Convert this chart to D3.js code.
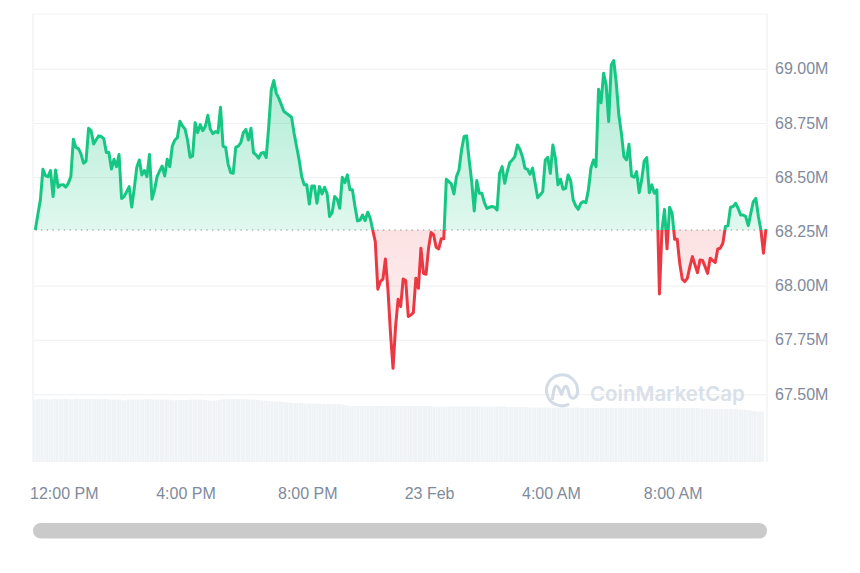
<!DOCTYPE html>
<html>
<head>
<meta charset="utf-8">
<script src="https://cdn.jsdelivr.net/npm/d3@7"></script>
<style>
body { margin: 0; background: #fff; }
.tick text { font-family: "Liberation Sans", Arial, sans-serif; font-size: 16px; fill: #808a9d; }
</style>
</head>
<body>
<div id="chart"></div>
<script>
// one reading every 5 minutes, in millions
var values = [
  68.259,68.330,68.397,68.539,68.510,68.505,68.533,68.413,68.536,68.456,68.467,68.468,68.457,68.474,68.505,68.677,
  68.640,68.634,68.610,68.567,68.576,68.728,68.717,68.656,68.675,68.693,68.690,68.680,68.616,68.616,68.540,68.585,
  68.551,68.607,68.404,68.413,68.436,68.459,68.365,68.451,68.548,68.582,68.513,68.533,68.505,68.607,68.401,68.444,
  68.505,68.531,68.554,68.508,68.585,68.551,68.646,68.674,68.685,68.760,68.739,68.725,68.674,68.594,68.600,68.754,
  68.708,68.745,68.717,68.736,68.788,68.723,68.703,68.713,68.708,68.825,68.646,68.640,68.563,68.524,68.520,68.640,
  68.646,68.662,68.708,68.723,68.674,68.728,68.616,68.605,68.590,68.613,68.617,68.593,68.736,68.905,68.948,68.889,
  68.866,68.836,68.805,68.797,68.788,68.779,68.705,68.643,68.582,68.505,68.467,68.467,68.379,68.462,68.462,68.382,
  68.459,68.425,68.456,68.428,68.321,68.339,68.413,68.401,68.359,68.502,68.477,68.513,68.444,68.444,68.367,68.301,
  68.305,68.328,68.302,68.341,68.313,68.259,68.205,67.986,68.021,68.032,68.125,67.983,67.783,67.621,67.813,67.939,
  67.906,68.033,68.026,67.860,67.867,67.878,68.036,67.990,68.175,68.059,68.055,68.175,68.247,68.236,68.179,68.172,
  68.218,68.218,68.493,68.482,68.471,68.425,68.505,68.536,68.628,68.690,68.693,68.582,68.482,68.347,68.487,68.428,
  68.428,68.385,68.358,68.364,68.367,68.364,68.351,68.520,68.551,68.474,68.528,68.570,68.582,68.597,68.651,68.631,
  68.597,68.544,68.539,68.516,68.544,68.474,68.408,68.421,68.436,68.582,68.594,68.520,68.651,68.590,68.467,68.493,
  68.447,68.451,68.513,68.487,68.398,68.370,68.354,68.382,68.390,68.385,68.444,68.544,68.582,68.551,68.908,68.846,
  68.982,68.928,68.759,69.020,69.040,68.935,68.789,68.705,68.597,68.582,68.654,68.508,68.502,68.528,68.431,68.490,
  68.577,68.593,68.431,68.467,68.428,68.444,67.964,68.259,68.354,68.172,68.364,68.336,68.216,68.216,68.105,68.032,
  68.021,68.036,68.090,68.136,68.098,68.062,68.121,68.118,68.090,68.059,68.129,68.118,68.109,68.172,68.175,68.198,
  68.275,68.278,68.364,68.367,68.382,68.359,68.328,68.328,68.321,68.279,68.336,68.390,68.405,68.321,68.259,68.152,
  68.264
];

// volume bars behind the line, same 5 minute steps
var volumes = [
  62.5,62.5,63,63,63,63,62.5,63,63,63,63,63,63,63,63,62.5,63,63,63,63,63,63,63,63,63,63,63,63,63,63,62.5,62.5,62.5,62.5,
  62.5,61.5,62,62.5,62.5,62.5,62.5,62.5,62.5,62.5,63,63,63,62.5,62.5,62.5,62.5,62.5,62.5,62.5,62,61.5,62,62,62,62,62,62,62.5,62.5,
  62.5,62.5,62.5,62,62,61.5,61.5,61.5,61.5,62,62.5,62.5,63,63,63,63,63,63,63,63,63,62.5,
  62.5,62.5,62,62,61.5,61.5,61,61,60.5,60.5,60.5,60.5,60,60,59.5,59.5,59,59,
  59,59,59,58.5,58.5,58.5,58.5,58.5,58.5,58,58,58,58,58,58,58,58,58,57.5,57,56.5,
  56,56,56,56,56,56,56,56,56,56,56,56,56,56,56,56,56,56,56,56,56,56,56,56,56,56,56,56,56,56,56,56,56,
  55.5,55.5,55.5,55.5,55.5,55.5,55.5,55.5,55.5,55.5,55.5,55.5,55.5,55.5,55.5,55.5,55.5,55.5,55.5,55.5,
  55.5,55.5,55.5,55.5,55.5,55.5,55.5,55.5,55.5,55,55,55,55,55,55,55,55,55,
  54.5,54.5,54.5,54.5,54.5,54.5,54.5,54.5,54.5,54.5,54.5,54.5,54.5,54.5,54.5,54.5,54.5,54.5,54.5,54.5,
  54,54,54,54,54,54,54,54,54,54,54,54,54,54,54,54,54,54,54,54,54,54,54,54,
  54,54,54,54,54,54,54,54,54,54,54,54,54,54,54,54,54,54,54,54,54,54,54,54,
  53.5,53.5,53.5,53.5,53,53,53,53,53,53,53,53,53,53,53,52.5,52.5,52.5,52,52,51,51,50.5,50.5,50.5
];

var baseValue = 68.259;
var startHour = 11.05;
var stepHours = 5 / 60;
var xTickHours = [12, 16, 20, 24, 28, 32];
var xTickLabels = ['12:00 PM', '4:00 PM', '8:00 PM', '23 Feb', '4:00 AM', '8:00 AM'];
var yTicks = [69, 68.75, 68.5, 68.25, 68, 67.75, 67.5];

var svgWidth = 860;
var svgHeight = 573;
var plot = {left: 33, right: 767, top: 14, bottom: 462};

var green = '#16c784';
var red = '#ea3943';

var svg = d3.select('#chart')
            .append('svg')
            .attr('width', svgWidth)
            .attr('height', svgHeight)
            .style('display', 'block');

var xScale = d3.scaleLinear()
               .domain([startHour, startHour + stepHours * (values.length - 1)])
               .range([35.3, 766]);

var yScale = d3.scaleLinear()
               .domain([67.189, 69.255])
               .range([plot.bottom, plot.top]);

var volBand = d3.scaleBand()
                .domain(d3.range(volumes.length))
                .range([33, 764])
                .padding(0.07);

var volScale = d3.scaleLinear()
                 .domain([0, 63])
                 .range([plot.bottom, 399]);

var baseY = yScale(baseValue);
var hourOf = (d, i) => startHour + i * stepHours;

var defs = svg.append('defs');

var greenGrad = defs.append('linearGradient')
    .attr('id', 'greenFill')
    .attr('gradientUnits', 'userSpaceOnUse')
    .attr('x1', 0).attr('x2', 0)
    .attr('y1', yScale(69.04)).attr('y2', baseY);
greenGrad.append('stop').attr('offset', 0).attr('stop-color', green).attr('stop-opacity', 0.36);
greenGrad.append('stop').attr('offset', 1).attr('stop-color', green).attr('stop-opacity', 0.13);

var redGrad = defs.append('linearGradient')
    .attr('id', 'redFill')
    .attr('gradientUnits', 'userSpaceOnUse')
    .attr('x1', 0).attr('x2', 0)
    .attr('y1', baseY).attr('y2', yScale(67.621));
redGrad.append('stop').attr('offset', 0).attr('stop-color', red).attr('stop-opacity', 0.15);
redGrad.append('stop').attr('offset', 1).attr('stop-color', red).attr('stop-opacity', 0.05);

defs.append('clipPath').attr('id', 'above').append('rect')
    .attr('x', 0).attr('y', 0).attr('width', svgWidth).attr('height', baseY);
defs.append('clipPath').attr('id', 'below').append('rect')
    .attr('x', 0).attr('y', baseY).attr('width', svgWidth).attr('height', svgHeight - baseY);

// frame
svg.append('path')
   .attr('d', `M${plot.left},${plot.bottom}V${plot.top}H${plot.right}V${plot.bottom}`)
   .attr('fill', 'none')
   .attr('stroke', '#eff1f3')
   .attr('stroke-width', 1.2);

// grid, the 68.25 line sits under the dotted base line so it is left out
svg.append('g').selectAll('line')
   .data(yTicks.filter(d => d !== 68.25))
   .enter()
   .append('line')
   .attr('x1', plot.left)
   .attr('x2', plot.right)
   .attr('y1', d => yScale(d))
   .attr('y2', d => yScale(d))
   .attr('stroke', '#f1f2f4')
   .attr('stroke-width', 1.2);

// volume
svg.append('g').selectAll('rect')
   .data(volumes)
   .enter()
   .append('rect')
   .attr('x', (d, i) => volBand(i))
   .attr('width', volBand.bandwidth())
   .attr('y', d => volScale(d))
   .attr('height', d => plot.bottom - volScale(d))
   .attr('fill', '#f0f3f6');

// watermark: open ring running into the M
svg.append('path')
   .attr('d', 'M568,404.6A15.5,15.5 0 1 1 577.5,390.5C578,397 573,400.5 570,396.5C568.5,394 568.5,388 566.5,386.5C564,385 562.5,392 561.5,394.5C560,392 559,386 556.5,386C554,386 553.5,392 552.5,398.5')
   .attr('fill', 'none')
   .attr('stroke', '#d3dbe6')
   .attr('stroke-width', 3)
   .attr('stroke-linecap', 'round')
   .attr('stroke-linejoin', 'round');
svg.append('text')
   .attr('x', 590)
   .attr('y', 401)
   .attr('font-family', 'Inter, sans-serif')
   .attr('font-weight', 600)
   .attr('font-size', '20.5px')
   .attr('fill', '#d9e0e9')
   .text('CoinMarketCap');

// areas and line, same shapes clipped at the base value
var area = d3.area()
             .x((d, i) => xScale(hourOf(d, i)))
             .y0(baseY)
             .y1(d => yScale(d));

var line = d3.line()
             .x((d, i) => xScale(hourOf(d, i)))
             .y(d => yScale(d));

svg.append('path').datum(values)
   .attr('d', area).attr('fill', 'url(#greenFill)').attr('clip-path', 'url(#above)');
svg.append('path').datum(values)
   .attr('d', area).attr('fill', 'url(#redFill)').attr('clip-path', 'url(#below)');

svg.append('line')
   .attr('x1', xScale.range()[0])
   .attr('x2', xScale.range()[1])
   .attr('y1', baseY)
   .attr('y2', baseY)
   .attr('stroke', '#8f8f8f')
   .attr('stroke-width', 1.1)
   .attr('stroke-dasharray', '1.4 4.3');

svg.append('path').datum(values)
   .attr('d', line).attr('fill', 'none').attr('stroke', green).attr('stroke-width', 3)
   .attr('stroke-linejoin', 'round').attr('clip-path', 'url(#above)');
svg.append('path').datum(values)
   .attr('d', line).attr('fill', 'none').attr('stroke', red).attr('stroke-width', 3)
   .attr('stroke-linejoin', 'round').attr('clip-path', 'url(#below)');

// axes
var xAxis = d3.axisBottom(xScale)
              .tickValues(xTickHours)
              .tickSize(0)
              .tickFormat((d, i) => xTickLabels[i]);

var yAxis = d3.axisRight(yScale)
              .tickValues(yTicks)
              .tickSize(0)
              .tickFormat(d => d.toFixed(2) + 'M');

var xG = svg.append('g')
            .attr('transform', `translate(-0.5, ${plot.bottom})`)
            .call(xAxis);
xG.select('.domain').remove();
xG.selectAll('text').attr('y', 26);

var yG = svg.append('g')
            .attr('transform', `translate(${plot.right}, -0.5)`)
            .call(yAxis);
yG.select('.domain').remove();
yG.selectAll('text').attr('x', 8);

// scrollbar
svg.append('rect')
   .attr('x', plot.left)
   .attr('y', 523)
   .attr('width', plot.right - plot.left)
   .attr('height', 15.5)
   .attr('rx', 7.75)
   .attr('fill', '#cacaca');
</script>
</body>
</html>
